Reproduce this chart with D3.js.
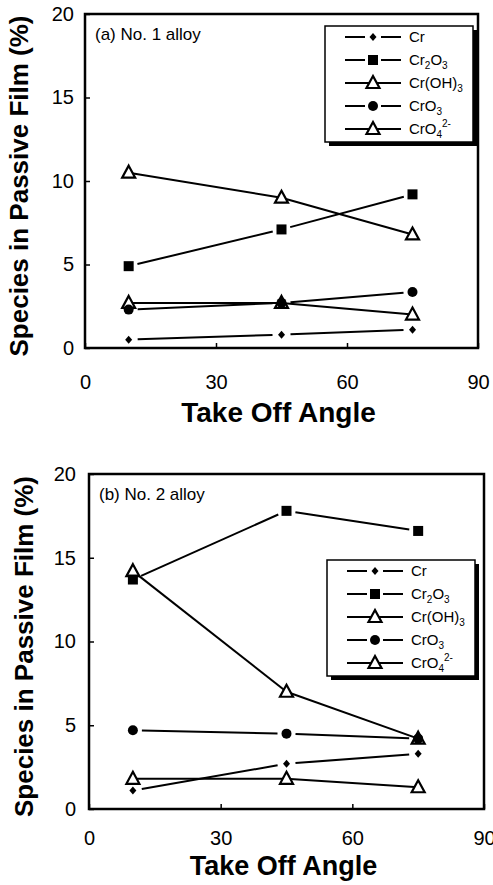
<!DOCTYPE html>
<html>
<head>
<meta charset="utf-8">
<script src="https://cdn.jsdelivr.net/npm/d3@7"></script>
<style>
  html, body { margin: 0; padding: 0; background: #fff; }
  svg { display: block; font-family: "Liberation Sans", Arial, sans-serif; }
</style>
</head>
<body>
<svg id="chart" width="493" height="885"></svg>
<script>
// ---------------- data ----------------
const angles = [10, 45, 75];
const seriesNames = ["Cr", "Cr2O3", "Cr(OH)3", "CrO3", "CrO4 2-"];
const xTicks = [0, 30, 60, 90];
const yTicks = [0, 5, 10, 15, 20];

// Panel (a) No. 1 alloy
const a_Cr     = [0.5, 0.8, 1.1];
const a_Cr2O3  = [4.9, 7.1, 9.2];
const a_CrOH3  = [10.5, 9.0, 6.8];
const a_CrO3   = [2.3, 2.7, 3.35];
const a_CrO4   = [2.7, 2.7, 2.0];

// Panel (b) No. 2 alloy
const b_Cr     = [1.1, 2.7, 3.3];
const b_Cr2O3  = [13.7, 17.8, 16.6];
const b_CrOH3  = [14.2, 7.0, 4.2];
const b_CrO3   = [4.7, 4.5, 4.2];
const b_CrO4   = [1.8, 1.8, 1.3];

const panelTitles = ["(a) No. 1 alloy", "(b) No. 2 alloy"];
const xTitle = "Take Off Angle";
const yTitle = "Species in Passive Film (%)";

// ---------------- drawing ----------------
const svg = d3.select("#chart");
const markerTypes = ["diamond", "square", "triangle", "circle", "triangle"];
const gapped = [true, true, false, true, false];

function drawMarker(g, type, cx, cy) {
  if (type === "diamond") {
    g.append("path").attr("d", `M${cx},${cy-4}L${cx+3.5},${cy}L${cx},${cy+4}L${cx-3.5},${cy}Z`)
      .attr("fill", "#000");
  } else if (type === "square") {
    g.append("rect").attr("x", cx-5).attr("y", cy-5).attr("width", 10).attr("height", 10).attr("fill", "#000");
  } else if (type === "circle") {
    g.append("circle").attr("cx", cx).attr("cy", cy).attr("r", 5).attr("fill", "#000");
  } else if (type === "triangle") {
    g.append("path").attr("d", `M${cx},${cy-7}L${cx+6.5},${cy+5}L${cx-6.5},${cy+5}Z`)
      .attr("fill", "#fff").attr("stroke", "#000").attr("stroke-width", 2.2).attr("stroke-linejoin", "miter");
  }
}

function legendLabel(t, name) {
  const sub = (s) => t.append("tspan").attr("font-size", 10).attr("dy", 4).text(s);
  if (name === "Cr") { t.append("tspan").text("Cr"); }
  else if (name === "Cr2O3") { t.append("tspan").text("Cr"); sub("2"); t.append("tspan").attr("dy", -4).text("O"); sub("3"); }
  else if (name === "Cr(OH)3") { t.append("tspan").text("Cr(OH)"); sub("3"); }
  else if (name === "CrO3") { t.append("tspan").text("CrO"); sub("3"); }
  else if (name === "CrO4 2-") { t.append("tspan").text("CrO"); sub("4"); t.append("tspan").attr("font-size", 10).attr("dy", -11).text("2-"); }
}

function drawPanel(cfg) {
  const x = d3.scaleLinear().domain([0, 90]).range([cfg.left, cfg.right]);
  const y = d3.scaleLinear().domain([0, 20]).range([cfg.bottom, cfg.top]);
  const g = svg.append("g");

  // axes with inward ticks
  const ay = g.append("g").attr("transform", `translate(${cfg.left},0)`)
    .call(d3.axisLeft(y).tickValues(yTicks).tickSize(-5).tickPadding(cfg.yPad).tickFormat(d3.format("d")));
  const ax = g.append("g").attr("transform", `translate(0,${cfg.bottom})`)
    .call(d3.axisBottom(x).tickValues(xTicks).tickSize(-5).tickPadding(cfg.xPad).tickFormat(d3.format("d")));
  [ay, ax].forEach(a => {
    a.select(".domain").remove();
    a.selectAll(".tick line").attr("stroke", "#000").attr("stroke-width", 1.5);
    a.selectAll(".tick text").attr("font-size", 20).attr("fill", "#000")
      .attr("font-family", "'Liberation Sans', Arial, sans-serif");
  });

  // frame
  g.append("rect").attr("x", cfg.left).attr("y", cfg.top)
    .attr("width", cfg.right - cfg.left).attr("height", cfg.bottom - cfg.top)
    .attr("fill", "none").attr("stroke", "#000").attr("stroke-width", 2.5);

  // panel title
  g.append("text").attr("x", cfg.left + 10).attr("y", cfg.top + 26)
    .attr("font-size", 17).text(cfg.title);

  // axis titles
  g.append("text").attr("x", (cfg.left + cfg.right) / 2 - 3).attr("y", cfg.bottom + cfg.xtOff)
    .attr("text-anchor", "middle").attr("font-size", cfg.xtSize).attr("font-weight", "bold").text(xTitle);
  g.append("text")
    .attr("transform", `translate(${cfg.ytx},${(cfg.top + cfg.bottom) / 2 + 5}) rotate(-90)`)
    .attr("text-anchor", "middle").attr("font-size", 26).attr("font-weight", "bold").text(yTitle);

  // lines
  cfg.series.forEach((vals, si) => {
    for (let i = 0; i < angles.length - 1; i++) {
      let x1 = x(angles[i]), y1 = y(vals[i]), x2 = x(angles[i + 1]), y2 = y(vals[i + 1]);
      if (gapped[si]) {
        const L = Math.hypot(x2 - x1, y2 - y1), gp = 9;
        const ux = (x2 - x1) / L, uy = (y2 - y1) / L;
        x1 += ux * gp; y1 += uy * gp; x2 -= ux * gp; y2 -= uy * gp;
      }
      g.append("line").attr("x1", x1).attr("y1", y1).attr("x2", x2).attr("y2", y2)
        .attr("stroke", "#000").attr("stroke-width", 2);
    }
  });
  // markers: triangles first, then filled
  const order = [2, 4, 0, 1, 3];
  order.forEach(si => {
    cfg.series[si].forEach((v, i) => drawMarker(g, markerTypes[si], x(angles[i]), y(v)));
  });

  // legend
  const L = cfg.legend;
  g.append("rect").attr("x", L.x + 4).attr("y", L.y + 4).attr("width", L.w).attr("height", L.h).attr("fill", "#000");
  g.append("rect").attr("x", L.x).attr("y", L.y).attr("width", L.w).attr("height", L.h)
    .attr("fill", "#fff").attr("stroke", "#000").attr("stroke-width", 1.5);
  seriesNames.forEach((name, si) => {
    const ry = L.y + 11 + si * 23;
    const mx = L.x + 48;
    if (gapped[si]) {
      g.append("line").attr("x1", L.x + 20).attr("x2", mx - 8).attr("y1", ry).attr("y2", ry).attr("stroke", "#000").attr("stroke-width", 2);
      g.append("line").attr("x1", mx + 8).attr("x2", L.x + 76).attr("y1", ry).attr("y2", ry).attr("stroke", "#000").attr("stroke-width", 2);
    } else {
      g.append("line").attr("x1", L.x + 20).attr("x2", L.x + 76).attr("y1", ry).attr("y2", ry).attr("stroke", "#000").attr("stroke-width", 2);
    }
    drawMarker(g, markerTypes[si], mx, ry);
    const t = g.append("text").attr("x", L.x + 84).attr("y", ry + 5).attr("font-size", 15);
    legendLabel(t, name);
  });
}

drawPanel({
  left: 85, right: 478, top: 14, bottom: 348, yPad: 11, ytx: 28, xPad: 27, xtOff: 74, xtSize: 28,
  title: panelTitles[0],
  series: [a_Cr, a_Cr2O3, a_CrOH3, a_CrO3, a_CrO4],
  legend: { x: 325, y: 26, w: 148, h: 116 }
});
drawPanel({
  left: 89, right: 484, top: 474, bottom: 809, yPad: 13, ytx: 33, xPad: 22, xtOff: 66, xtSize: 27,
  title: panelTitles[1],
  series: [b_Cr, b_Cr2O3, b_CrOH3, b_CrO3, b_CrO4],
  legend: { x: 327, y: 560, w: 148, h: 116 }
});
</script>
</body>
</html>
